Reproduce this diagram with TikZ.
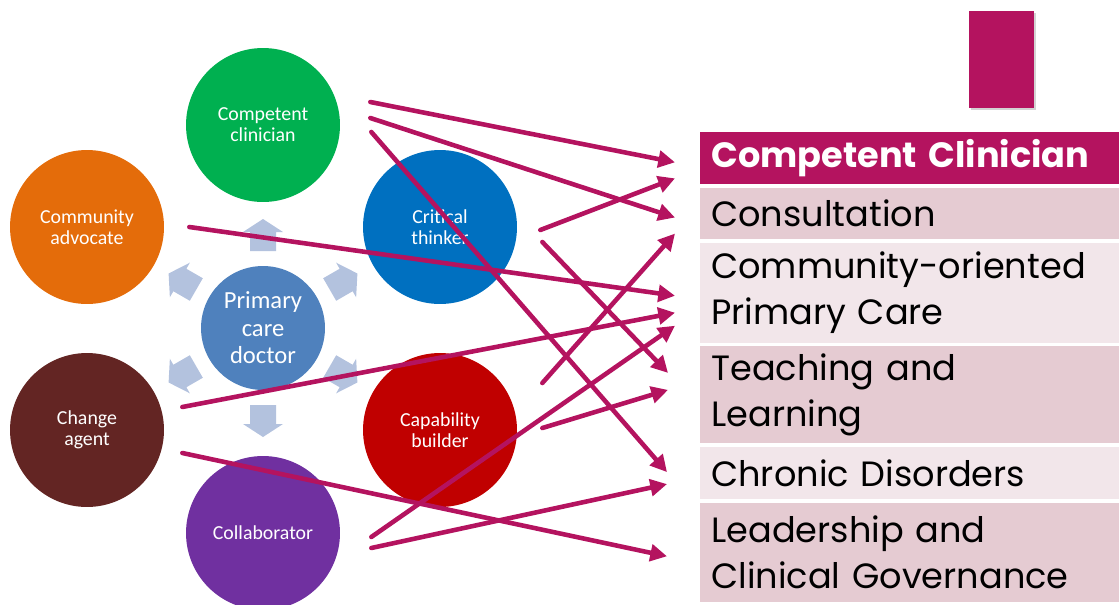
\documentclass[tikz,border=0pt]{standalone}
\usepackage{fontspec}
\setmainfont{Carlito}
\newfontfamily\gothic{Poppins}
\usetikzlibrary{positioning, calc, arrows.meta, shadows}
\definecolor{ccgreen}{HTML}{00B050}
\definecolor{caorange}{HTML}{E46C0A}
\definecolor{ctblue}{HTML}{0070C0}
\definecolor{docblue}{HTML}{4F81BD}
\definecolor{agbrown}{HTML}{632523}
\definecolor{cbred}{HTML}{C00000}
\definecolor{colpurple}{HTML}{7030A0}
\definecolor{spoke}{HTML}{B3C2DE}
\definecolor{berry}{HTML}{B4135F}
\definecolor{rowdark}{HTML}{E5CBD2}
\definecolor{rowlight}{HTML}{F2E6EA}
\tikzset{
  role/.style={circle, minimum size=3.08cm, inner sep=0pt, text=white, align=center, font=\fontsize{11.3}{12}\selectfont},
  row/.style={rectangle, inner xsep=0.22cm, inner ysep=0pt, text width=7.94cm, align=left, font=\gothic\fontsize{20}{26.5}\selectfont}
}
\tikzstyle{link} = [line width=2.6pt, berry, line cap=round, -{Triangle[length=9.5pt,width=9.5pt]}]

\begin{document}
\begin{tikzpicture}[x=0.02cm, y=-0.02cm, node distance=0.06cm]
    \useasboundingbox (0,0) rectangle (1119,605);
    \clip (0,0) rectangle (1119,605);
    \node [role, fill=docblue, minimum size=2.48cm, font=\fontsize{14}{15.6}\selectfont] (doc) at (263,328) {Primary\\care\\doctor};
    \node [role, fill=ccgreen] (cc) at (263,125) {Competent\\clinician};
    \node [role, fill=caorange] (ca) at (87,227) {Community\\advocate};
    \node [role, fill=ctblue] (ct) at (440,227) {Critical\\thinker};
    \node [role, fill=agbrown] (ag) at (87,430) {Change\\agent};
    \node [role, fill=cbred] (cb) at (440,430) {Capability\\builder};
    \node [role, fill=colpurple] (co) at (263,533) {Collaborator};
    \foreach \a in {30,90,...,330}
      \fill [spoke, shift={(doc.center)}, rotate=\a] (77,-13) -- (96,-13) -- (96,-20) -- (109,0) -- (96,20) -- (96,13) -- (77,13) -- cycle;

    \node [fill=berry, minimum width=1.3cm, minimum height=1.94cm, drop shadow={shadow xshift=1pt, shadow yshift=-1pt, opacity=0.35}] (tab) at (1001.5,59.5) {};

    \node [row, fill=berry, text=white, minimum height=1.04cm, anchor=north west, font=\gothic\bfseries\fontsize{20}{26.5}\selectfont] (hdr) at (700,132) {Competent Clinician};
    \node [row, fill=rowdark, minimum height=1.02cm, below=of hdr] (cons) {Consultation};
    \node [row, fill=rowlight, minimum height=2cm, below=of cons] (copc) {Community-oriented\\Primary Care};
    \node [row, fill=rowdark, minimum height=1.94cm, below=of copc] (teach) {Teaching and\\Learning};
    \node [row, fill=rowlight, minimum height=1.04cm, below=of teach] (chron) {Chronic Disorders};
    \node [row, fill=rowdark, minimum height=1.98cm, below=of chron] (lead) {Leadership and\\Clinical Governance};

    \draw [link] ($(cc.east)+(30,-23)$) -- ($(hdr.west)+(-25,4)$);
    \draw [link] ($(cc.east)+(30,-7)$) -- ($(cons.west)+(-25,4)$);
    \draw [link] ($(cc.east)+(31,7)$) -- ($(chron.west)+(-33,-1)$);
    \draw [link] ($(ct.east)+(23,3)$) -- ($(hdr.west)+(-25,20)$);
    \draw [link] ($(ct.east)+(25,15)$) -- ($(teach.west)+(-32,-22)$);
    \draw [link] ($(ca.east)+(25,0)$) -- ($(copc.west)+(-25,3)$);
    \draw [link] ($(ag.east)+(18,-23)$) -- ($(copc.west)+(-25,20)$);
    \draw [link] ($(ag.east)+(18,23)$) -- ($(lead.west)+(-33,4)$);
    \draw [link] ($(cb.east)+(25,-47)$) -- ($(cons.west)+(-25,20)$);
    \draw [link] ($(cb.east)+(25,-2)$) -- ($(teach.west)+(-32,-5)$);
    \draw [link] ($(co.east)+(31,4)$) -- ($(copc.west)+(-25,33)$);
    \draw [link] ($(co.east)+(31,15)$) -- ($(chron.west)+(-33,11)$);
\end{tikzpicture}
\end{document}
